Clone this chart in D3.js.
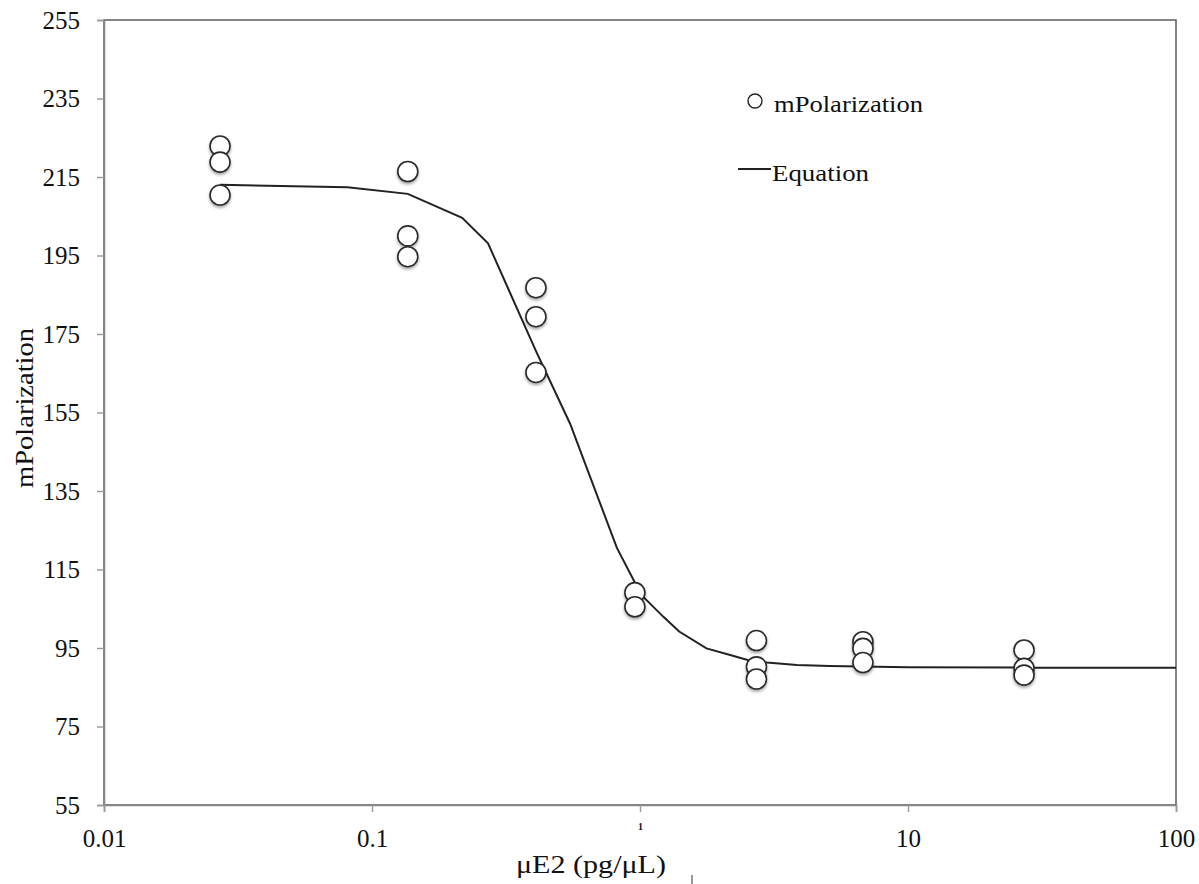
<!DOCTYPE html>
<html>
<head>
<meta charset="utf-8">
<script src="https://cdn.jsdelivr.net/npm/d3@7"></script>
<style>
  body { margin: 0; background: #fff; }
  text { font-family: "Liberation Serif", "Times New Roman", serif; fill: #111; }
</style>
</head>
<body>
<div id="chart"></div>
<script>
// measured points (concentration in pg/uL, mPolarization)
const conc = [0.0271, 0.0271, 0.0271, 0.136, 0.136, 0.136, 0.409, 0.409, 0.409,
  0.957, 0.957, 2.72, 2.72, 2.72, 6.79, 6.79, 6.79, 27.1, 27.1, 27.1];
const mPol = [222.9, 218.8, 210.4, 216.4, 200.0, 194.7, 186.8, 179.4, 165.2,
  109.1, 105.5, 96.9, 90.2, 87.1, 96.6, 94.9, 91.3, 94.5, 89.8, 88.1];

// fitted "Equation" curve
const curveX = [0.0271, 0.081, 0.136, 0.217, 0.271, 0.41, 0.548, 0.82, 0.96, 1.04,
  1.22, 1.40, 1.77, 2.17, 2.54, 2.97, 3.85, 5.1, 10, 27.1, 100];
const curveY = [213.0, 212.4, 210.7, 204.6, 198.1, 170.5, 152.2, 120.5, 111.5, 107.7,
  103.0, 99.2, 94.9, 93.2, 91.9, 91.3, 90.7, 90.4, 90.1, 90.0, 90.0];

const xTicks = [0.01, 0.1, 1, 10, 100];
const xTickLabels = ["0.01", "0.1", "1", "10", "100"];
const yTicks = [55, 75, 95, 115, 135, 155, 175, 195, 215, 235, 255];

const width = 1199;
const height = 884;
const margin = { top: 20, right: 23, bottom: 79, left: 104 };

const svg = d3.select("#chart")
  .append("svg")
  .attr("width", width)
  .attr("height", height);

const defs = svg.append("defs");
const shadow = defs.append("filter")
  .attr("id", "shadow")
  .attr("x", "-50%").attr("y", "-50%")
  .attr("width", "200%").attr("height", "200%");
shadow.append("feDropShadow")
  .attr("dx", 0).attr("dy", 2)
  .attr("stdDeviation", 1.5)
  .attr("flood-color", "#000")
  .attr("flood-opacity", 0.35);

const x = d3.scaleLog()
  .domain([0.01, 100])
  .range([margin.left, width - margin.right]);

const y = d3.scaleLinear()
  .domain([55, 255])
  .range([height - margin.bottom, margin.top]);

// frame
svg.append("rect")
  .attr("x", margin.left)
  .attr("y", margin.top)
  .attr("width", width - margin.right - margin.left)
  .attr("height", height - margin.bottom - margin.top)
  .attr("fill", "none")
  .attr("stroke", "#666")
  .attr("stroke-width", 1.6);

// y axis
const yAxis = svg.append("g")
  .attr("transform", `translate(${margin.left},0)`)
  .call(d3.axisLeft(y).tickValues(yTicks).tickSize(7).tickPadding(17).tickFormat(d3.format("d")));
yAxis.select(".domain").attr("stroke", "#888").attr("stroke-width", 1.6);
yAxis.selectAll(".tick line").attr("stroke", "#999").attr("stroke-width", 1.4);
yAxis.selectAll(".tick text")
  .attr("font-size", "25px")
  .style("font-family", "'Liberation Serif', serif")
  .attr("fill", "#111");

// x axis
const xAxis = svg.append("g")
  .attr("transform", `translate(0,${height - margin.bottom})`)
  .call(d3.axisBottom(x).tickValues(xTicks).tickSize(7).tickPadding(17)
    .tickFormat((d, i) => xTickLabels[i]));
xAxis.select(".domain").attr("stroke", "#888").attr("stroke-width", 1.6);
xAxis.selectAll(".tick line").attr("stroke", "#999").attr("stroke-width", 1.4);
xAxis.selectAll(".tick text")
  .attr("font-size", d => d === 1 ? "10px" : "25px")
  .attr("font-weight", d => d === 1 ? "bold" : "normal")
  .attr("dy", d => d === 1 ? "0.1em" : "0.71em")
  .style("font-family", "'Liberation Serif', serif")
  .attr("fill", "#111");

// axis titles
svg.append("text")
  .attr("x", 591)
  .attr("y", 873)
  .attr("text-anchor", "middle")
  .attr("font-size", "25px")
  .attr("textLength", 150)
  .attr("lengthAdjust", "spacingAndGlyphs")
  .text("μE2 (pg/μL)");

svg.append("text")
  .attr("transform", "translate(33,408) rotate(-90)")
  .attr("text-anchor", "middle")
  .attr("font-size", "25px")
  .attr("textLength", 160)
  .attr("lengthAdjust", "spacingAndGlyphs")
  .text("mPolarization");

// stray mark under the axis title
svg.append("line")
  .attr("x1", 692).attr("x2", 692)
  .attr("y1", 875).attr("y2", 884)
  .attr("stroke", "#333")
  .attr("stroke-width", 1);

// fitted curve
const line = d3.line()
  .x(d => x(d[0]))
  .y(d => y(d[1]));

svg.append("path")
  .datum(curveX.map((c, i) => [c, curveY[i]]))
  .attr("d", line)
  .attr("fill", "none")
  .attr("stroke", "#222")
  .attr("stroke-width", 2);

// points
svg.append("g")
  .selectAll("circle")
  .data(conc.map((c, i) => [c, mPol[i]]))
  .join("circle")
  .attr("cx", d => x(d[0]))
  .attr("cy", d => y(d[1]))
  .attr("r", 10)
  .attr("fill", "#fff")
  .attr("stroke", "#2a2a2a")
  .attr("stroke-width", 1.6)
  .attr("filter", "url(#shadow)");

// legend
const legend = svg.append("g");
legend.append("circle")
  .attr("cx", 755).attr("cy", 101)
  .attr("r", 7)
  .attr("fill", "#fff")
  .attr("stroke", "#222")
  .attr("stroke-width", 1.4);
legend.append("text")
  .attr("x", 774).attr("y", 112)
  .attr("font-size", "24px")
  .attr("textLength", 149)
  .attr("lengthAdjust", "spacingAndGlyphs")
  .text("mPolarization");
legend.append("line")
  .attr("x1", 738).attr("x2", 771)
  .attr("y1", 169).attr("y2", 169)
  .attr("stroke", "#222")
  .attr("stroke-width", 2);
legend.append("text")
  .attr("x", 772).attr("y", 181)
  .attr("font-size", "24px")
  .attr("textLength", 97)
  .attr("lengthAdjust", "spacingAndGlyphs")
  .text("Equation");
</script>
</body>
</html>
